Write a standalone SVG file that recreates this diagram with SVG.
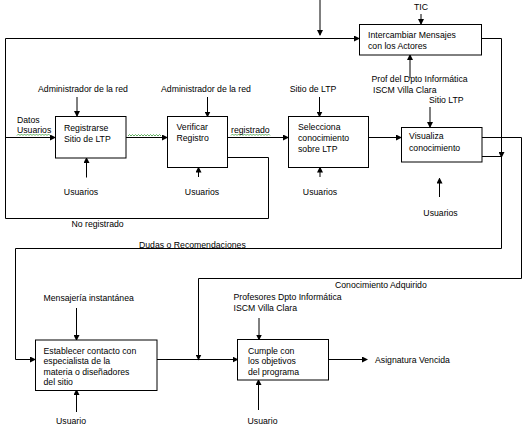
<svg xmlns="http://www.w3.org/2000/svg" width="527" height="425" viewBox="0 0 527 425">
<style>
text{font-family:"Liberation Sans",Arial,sans-serif;font-size:8.7px;fill:#000}
.b{fill:#fff;stroke:#000;stroke-width:1}
.l{fill:none;stroke:#000;stroke-width:1}
.sq{fill:none;stroke:#3a9a3a;stroke-width:0.8}
</style>
<defs>
<marker id="a" markerWidth="6" markerHeight="6" refX="5" refY="3" orient="auto" markerUnits="userSpaceOnUse">
<path d="M0,0 L6,3 L0,6 z" fill="#000"/>
</marker>
</defs>
<rect width="527" height="425" fill="#fff"/>
<g id="connectors">
<path class="l" d="M320,0 V35" marker-end="url(#a)"/>
<path class="l" d="M421,14 V24" marker-end="url(#a)"/>
<path class="l" d="M227,157.5 H268.5 V218.5 H5.5 V38.5 H359" marker-end="url(#a)"/>
<path class="l" d="M5.5,137.5 H55" marker-end="url(#a)"/>
<path class="l" d="M126,137.5 H167" marker-end="url(#a)"/>
<path class="l" d="M227,137.5 H288" marker-end="url(#a)"/>
<path class="l" d="M368,137.5 H401" marker-end="url(#a)"/>
<path class="l" d="M77,97 V116" marker-end="url(#a)"/>
<path class="l" d="M207.5,97 V116.5" marker-end="url(#a)"/>
<path class="l" d="M319.5,97 V116.5" marker-end="url(#a)"/>
<path class="l" d="M430,107 V127" marker-end="url(#a)"/>
<path class="l" d="M410,78 V55" marker-end="url(#a)"/>
<path class="l" d="M86.5,177.5 V158" marker-end="url(#a)"/>
<path class="l" d="M198.5,177 V167.5" marker-end="url(#a)"/>
<path class="l" d="M320,177 V167.5" marker-end="url(#a)"/>
<path class="l" d="M439.5,197 V178.5" marker-end="url(#a)"/>
<path class="l" d="M482,38.5 H501.5 V157" marker-end="url(#a)"/>
<path class="l" d="M501.5,157 V248.5 H15.5 V359.5 H35" marker-end="url(#a)"/>
<path class="l" d="M482,156.5 H501.5"/>
<path class="l" d="M482,137.5 H521.5 V278.5 H198.5 V359.5" marker-end="url(#a)"/>
<path class="l" d="M157,359.5 H237.5" marker-end="url(#a)"/>
<path class="l" d="M310,359.5 H367" marker-end="url(#a)"/>
<path class="l" d="M76.5,308 V340" marker-end="url(#a)"/>
<path class="l" d="M76.5,412 V390" marker-end="url(#a)"/>
<path class="l" d="M259,318 V339.5" marker-end="url(#a)"/>
<path class="l" d="M258.5,410 V380" marker-end="url(#a)"/>
<path class="sq" d="M128,136 l1.5,-1.5 l1.5,1.5 l1.5,-1.5 l1.5,1.5 l1.5,-1.5 l1.5,1.5 l1.5,-1.5 l1.5,1.5 l1.5,-1.5 l1.5,1.5 l1.5,-1.5 l1.5,1.5 l1.5,-1.5 l1.5,1.5 l1.5,-1.5 l1.5,1.5 l1.5,-1.5 l1.5,1.5 l1.5,-1.5 l1.5,1.5 l1.5,-1.5 l1.5,1.5"/>
<path class="sq" d="M17,135.5 l1.5,-1.5 l1.5,1.5 l1.5,-1.5 l1.5,1.5 l1.5,-1.5 l1.5,1.5 l1.5,-1.5 l1.5,1.5 l1.5,-1.5 l1.5,1.5 l1.5,-1.5 l1.5,1.5 l1.5,-1.5 l1.5,1.5 l1.5,-1.5 l1.5,1.5 l1.5,-1.5 l1.5,1.5 l1.5,-1.5 l1.5,1.5 l1.5,-1.5 l1.5,1.5"/>
<path class="sq" d="M231,135.5 l1.5,-1.5 l1.5,1.5 l1.5,-1.5 l1.5,1.5 l1.5,-1.5 l1.5,1.5 l1.5,-1.5 l1.5,1.5 l1.5,-1.5 l1.5,1.5 l1.5,-1.5 l1.5,1.5 l1.5,-1.5 l1.5,1.5 l1.5,-1.5 l1.5,1.5 l1.5,-1.5 l1.5,1.5 l1.5,-1.5 l1.5,1.5 l1.5,-1.5 l1.5,1.5 l1.5,-1.5 l1.5,1.5 l1.5,-1.5 l1.5,1.5"/>
</g>
<g id="intercambiar">
<rect class="b" x="359.5" y="24.5" width="122" height="30.5"/>
<text x="368" y="38">Intercambiar Mensajes</text>
<text x="368" y="49">con los Actores</text>
</g>
<g id="registrarse">
<rect class="b" x="55.5" y="116.5" width="70.5" height="41.5"/>
<text x="64" y="131">Registrarse</text>
<text x="64" y="142">Sitio de LTP</text>
</g>
<g id="verificar">
<rect class="b" x="167.5" y="116.5" width="60" height="51"/>
<text x="176.5" y="130">Verificar</text>
<text x="176.5" y="141">Registro</text>
</g>
<g id="selecciona">
<rect class="b" x="288.5" y="116.5" width="80" height="51"/>
<text x="298" y="130">Selecciona</text>
<text x="298" y="141">conocimiento</text>
<text x="298" y="152">sobre LTP</text>
</g>
<g id="visualiza">
<rect class="b" x="401.5" y="127.5" width="80.5" height="34.5"/>
<text x="409" y="139">Visualiza</text>
<text x="409" y="151">conocimiento</text>
</g>
<g id="establecer">
<rect class="b" x="35.5" y="340" width="121.5" height="50.5"/>
<text x="43.5" y="353.5">Establecer contacto con</text>
<text x="43.5" y="364">especialista de la</text>
<text x="43.5" y="374.5">materia o diseñadores</text>
<text x="43.5" y="385">del sitio</text>
</g>
<g id="cumple">
<rect class="b" x="237.5" y="339.5" width="91" height="40.5"/>
<text x="248" y="353.5">Cumple con</text>
<text x="248" y="364">los objetivos</text>
<text x="248" y="374.5">del programa</text>
</g>
<g id="labels">
<text x="421" y="10" text-anchor="middle">TIC</text>
<text x="83" y="92" text-anchor="middle">Administrador de la red</text>
<text x="206" y="92" text-anchor="middle">Administrador de la red</text>
<text x="313" y="92" text-anchor="middle">Sitio de LTP</text>
<text x="371.5" y="82">Prof del Dpto Informática</text>
<text x="373" y="93">ISCM Villa Clara</text>
<text x="429" y="103">Sitio LTP</text>
<text x="17" y="123">Datos</text>
<text x="17" y="133">Usuarios</text>
<text x="231" y="133">registrado</text>
<text x="81" y="195" text-anchor="middle">Usuarios</text>
<text x="202" y="195" text-anchor="middle">Usuarios</text>
<text x="320" y="195" text-anchor="middle">Usuarios</text>
<text x="440.5" y="216" text-anchor="middle">Usuarios</text>
<text x="71.5" y="227">No registrado</text>
<text x="139" y="248">Dudas o Recomendaciones</text>
<text x="335" y="288">Conocimiento Adquirido</text>
<text x="43.5" y="301">Mensajería instantánea</text>
<text x="233.5" y="300">Profesores Dpto Informática</text>
<text x="233.5" y="311">ISCM Villa Clara</text>
<text x="375" y="362.5">Asignatura Vencida</text>
<text x="71" y="423.5" text-anchor="middle">Usuario</text>
<text x="262.5" y="423.5" text-anchor="middle">Usuario</text>
</g>
</svg>
